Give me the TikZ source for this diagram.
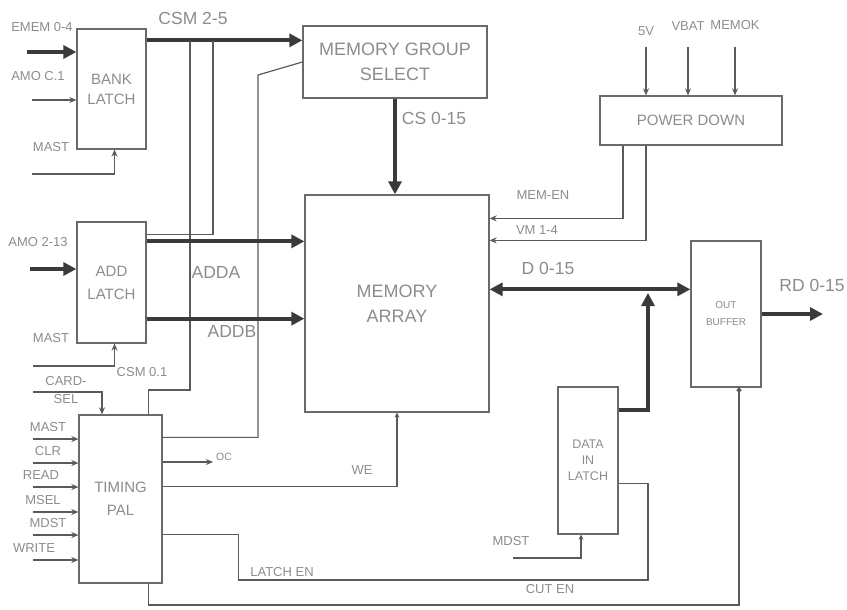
\documentclass[tikz,border=0pt]{standalone}
\usepackage{fontspec}
\setmainfont{Liberation Sans}
\usetikzlibrary{arrows.meta,positioning}

\definecolor{txtcol}{HTML}{8C8C8C}
\definecolor{boxcol}{HTML}{6A6A6A}
\definecolor{wirecol}{HTML}{5A5A5A}
\definecolor{buscol}{HTML}{3A3A3A}

\begin{document}
\begin{tikzpicture}[
    x=1pt, y=-1pt,
    >=Stealth,
    box/.style={draw=boxcol, line width=1.3pt, inner sep=0pt, align=center, text=txtcol},
    lbl/.style={text=txtcol, inner sep=0.6pt, font=\fontsize{13}{18}\selectfont, align=center},
    big/.style={text=txtcol, inner sep=0.6pt, font=\fontsize{17.5}{18}\selectfont},
    wire/.style={draw=wirecol, line width=1.2pt},
    sig/.style={wire, -{Stealth[length=7pt,width=6pt]}},
    tick/.style={wire, -{Stealth[length=5pt,width=5pt]}},
    busline/.style={draw=buscol, line width=4pt, -{Triangle[length=13pt,width=13pt]}},
    busboth/.style={draw=buscol, line width=4pt, {Triangle[length=13pt,width=13pt]}-{Triangle[length=13pt,width=13pt]}}
]
\useasboundingbox (0,0) rectangle (847,610);

% blocks
\node[box, minimum width=69pt, minimum height=120pt, font=\fontsize{15}{20}\selectfont] (bank) at (111.5,89) {BANK\\LATCH};
\node[box, minimum width=184pt, minimum height=72pt, font=\fontsize{18}{25}\selectfont] (mgs) at (395,62) {MEMORY GROUP\\SELECT};
\node[box, minimum width=182pt, minimum height=49pt, font=\fontsize{15}{18}\selectfont] (power) at (691,120.5) {POWER DOWN};
\node[box, minimum width=69pt, minimum height=121pt, font=\fontsize{15}{23}\selectfont] (addl) at (111.5,282.5) {ADD\\LATCH};
\node[box, minimum width=83pt, minimum height=168pt, font=\fontsize{15}{23}\selectfont] (timing) at (120.5,499) {TIMING\\PAL};
\node[box, minimum width=184pt, minimum height=217pt, font=\fontsize{18}{25}\selectfont] (memarr) at (397,303.5) {MEMORY\\ARRAY};
\node[box, minimum width=70pt, minimum height=146pt, font=\fontsize{10}{17}\selectfont] (outbuf) at (726,314) {OUT\\BUFFER};
\node[box, minimum width=60pt, minimum height=147pt, font=\fontsize{12.5}{16}\selectfont] (datain) at (588,460.5) {DATA\\IN\\LATCH};

% bank latch inputs
\node[lbl] (ememl) at (42,27) {EMEM 0-4};
\coordinate (ememin) at (27,52);
\draw[busline] (ememin) -- (ememin -| bank.west);
\node[lbl] (amocl) at (38,76) {AMO C.1};
\coordinate (amocin) at (32,100);
\draw[sig] (amocin) -- (amocin -| bank.west);
\node[lbl] (mastbl) at (51,147) {MAST};
\coordinate (mastbin) at (32,174);
\draw[sig] (mastbin) -| ([xshift=3pt]bank.south);

% CSM 2-5 bus and its taps
\draw[busline] ([yshift=-12pt]bank.north east) -- ([yshift=-12pt]bank.north east -| mgs.west);
\node[big] (csml) at (193,18) {CSM 2-5};
\coordinate (tapa) at (190,41);
\coordinate (tapb) at (213,41);
\draw[wire] (tapa) -- ++(0,349) -| ([xshift=-14pt]timing.north east);
\draw[wire] (tapb) |- ([yshift=-13pt]addl.north east);
\draw[wire] ([yshift=-23pt]timing.north east) -| (258,75) -- (mgs.west);

% CS 0-15
\draw[busline] (mgs.south) -- (mgs.south |- memarr.north);
\node[big] (csl) at (434,118) {CS 0-15};

% add latch
\node[lbl] (amol) at (38,242) {AMO 2-13};
\coordinate (amoin) at (30,269);
\draw[busline] (amoin) -- (amoin -| addl.west);
\draw[busline] ([yshift=-20pt]addl.north east) -- ([yshift=-20pt]addl.north east -| memarr.west);
\node[big] (addal) at (216,272) {ADDA};
\draw[busline] ([yshift=25pt]addl.south east) -- ([yshift=25pt]addl.south east -| memarr.west);
\node[big] (addbl) at (232,331) {ADDB};
\node[lbl] (mastal) at (51,338) {MAST};
\coordinate (mastain) at (33,366);
\draw[sig] (mastain) -| ([xshift=3pt]addl.south);
\node[lbl] (csm01) at (142,372) {CSM 0.1};

% timing pal inputs
\node[lbl] (cardl) at (66,390) {CARD-\\SEL};
\coordinate (cardin) at (33,392);
\draw[sig] (cardin) -| ([xshift=-18.5pt]timing.north);
\foreach \y/\t/\lx in {439/MAST/48, 463/CLR/48, 487/READ/41, 512/MSEL/43, 535/MDST/48, 560/WRITE/34} {
  \node[lbl] (pal\t) at (\lx,\y-12) {\t};
  \coordinate (palin\t) at (33,\y);
  \draw[sig] (palin\t) -- (palin\t -| timing.west);
}

% timing pal outputs
\coordinate (ocend) at (213,462);
\draw[sig] (ocend -| timing.east) -- (ocend);
\node[text=txtcol, inner sep=0.6pt, font=\fontsize{10.5}{11}\selectfont] (ocl) at (224,457) {OC};
\draw[tick] ([yshift=-72pt]timing.north east) -| (memarr.south);
\node[lbl] (wel) at (362,470) {WE};
\draw[wire] ([yshift=-120pt]timing.north east) -- ++(76,0) |- (648,580) |- ([yshift=-97pt]datain.north east);
\node[lbl] (latchl) at (282,572) {LATCH EN};
\draw[wire, -{Circle[length=5pt]}] ([xshift=-14pt]timing.south east) |- (739,605) -- ([xshift=13pt]outbuf.south);
\node[lbl] (outenl) at (550,589) {CUT EN};

% data bus
\draw[busboth] ([yshift=-95pt]memarr.north east) -- ([yshift=-95pt]memarr.north east -| outbuf.west);
\node[big] (dl) at (548,268) {D 0-15};
\coordinate (dtap) at (648,293);
\draw[busline] ([yshift=-24pt]datain.north east) -| (dtap);
\node[lbl] (mdstl) at (511,541) {MDST};
\coordinate (mdstin) at (513,558);
\draw[tick] (mdstin) -| ([xshift=-7pt]datain.south);

% out buffer
\coordinate (rdout) at (823,314);
\draw[busline] (outbuf.east) -- (rdout);
\node[big] (rdl) at (812,285) {RD 0-15};

% power down
\foreach \x/\t/\ly in {646/5V/31, 688/VBAT/26, 735/MEMOK/25} {
  \node[lbl] (pw\t) at (\x,\ly) {\t};
  \coordinate (pwin\t) at (\x,47);
  \draw[sig] (pwin\t) -- (pwin\t |- power.north);
}
\draw[sig] ([xshift=-68pt]power.south) |- ([yshift=-24pt]memarr.north east);
\node[lbl] (memenl) at (543,195) {MEM-EN};
\draw[sig] ([xshift=-45pt]power.south) |- ([yshift=-46pt]memarr.north east);
\node[lbl] (vml) at (537,230) {VM 1-4};

\end{tikzpicture}
\end{document}
